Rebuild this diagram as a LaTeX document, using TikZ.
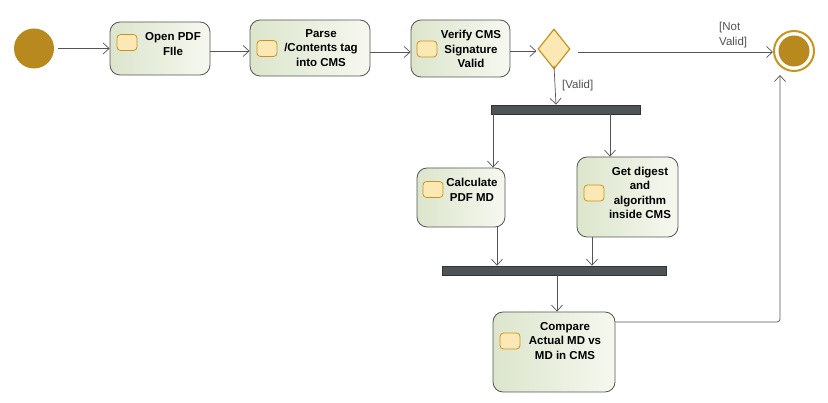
\documentclass[tikz,border=0pt]{standalone}
\usepackage{fontspec}
\setmainfont{Liberation Sans}
\usetikzlibrary{arrows.meta,shapes.geometric}
\definecolor{gold}{HTML}{B8891F}
\definecolor{goldline}{HTML}{C8961E}
\definecolor{pinfill}{HTML}{FBE8B4}
\definecolor{actfillA}{HTML}{DCE5CC}
\definecolor{actfillB}{HTML}{F6F8F0}
\definecolor{edge}{HTML}{555555}
\definecolor{barfill}{HTML}{4D5457}
\definecolor{lblgray}{HTML}{505050}
\tikzset{
  act/.style={draw=edge, line width=0.8pt, rounded corners=10pt, left color=actfillA, right color=actfillB, inner sep=0pt},
  pinbox/.style={draw=goldline, line width=0.8pt, fill=pinfill, rounded corners=3.5pt, minimum width=20pt, minimum height=16pt, inner sep=0pt},
  lbl/.style={font=\bfseries\fontsize{11.5}{14.5}\selectfont, align=center, inner sep=0pt, text=black},
  glbl/.style={font=\fontsize{11.5}{14.5}\selectfont, align=left, inner sep=0pt, text=lblgray},
  bar/.style={draw=black!80, fill=barfill, line width=0.6pt, inner sep=0pt},
  flow/.style={draw=edge, line width=0.7pt, -{Straight Barb[length=6pt,width=11pt,line width=0.7pt]}},
  plain/.style={draw=edge, line width=0.7pt},
}
\begin{document}
\begin{tikzpicture}[x=1pt,y=-1pt]
\useasboundingbox[fill=white] (0,0) rectangle (828,403);
% start
\node[circle, fill=gold, minimum size=40pt, inner sep=0pt] (start) at (34,48.5) {};
% actions
\node[act, minimum width=100pt, minimum height=53pt] (open) at (160,48.5) {};
\node[pinbox] (openp) at (127,42.5) {};
\node[lbl] (opent) at (173,44) {Open PDF\\FIle};

\node[act, minimum width=120pt, minimum height=56pt] (parse) at (310,48) {};
\node[pinbox] (parsep) at (267,48.5) {};
\node[lbl] (parset) at (321,48) {Parse\\/Contents tag\\into CMS};

\node[act, minimum width=99pt, minimum height=57pt] (verify) at (460.5,48.5) {};
\node[pinbox] (verifyp) at (427,49) {};
\node[lbl] (verifyt) at (471,49) {Verify CMS\\Signature\\Valid};

% decision
\node[diamond, draw=goldline, line width=1.2pt, fill=pinfill, minimum width=32pt, minimum height=40pt, inner sep=0pt] (dec) at (554,49) {};

% final
\node[circle, draw=goldline, line width=2pt, fill=white, minimum size=40pt, inner sep=0pt] (final) at (794,51) {};
\node[circle, fill=gold, minimum size=31pt, inner sep=0pt] (finalin) at (794,51) {};

% fork bar
\node[bar, minimum width=149pt, minimum height=9pt] (fork) at (565.5,109.5) {};

\node[act, minimum width=88pt, minimum height=59pt] (calc) at (461,197.5) {};
\node[pinbox] (calcp) at (433,189.5) {};
\node[lbl] (calct) at (472,190) {Calculate\\PDF MD};

\node[act, minimum width=101pt, minimum height=80pt] (digest) at (627.5,197) {};
\node[pinbox] (digestp) at (594,193) {};
\node[lbl] (digestt) at (640,193) {Get digest\\and\\algorithm\\inside CMS};

% join bar
\node[bar, minimum width=224pt, minimum height=9pt] (join) at (554,270.5) {};

\node[act, minimum width=122pt, minimum height=80pt] (comp) at (554,352) {};
\node[pinbox] (compp) at (510,341) {};
\node[lbl] (compt) at (565,341) {Compare\\Actual MD vs\\MD in CMS};

% labels
\node[glbl, anchor=north west] (notvalid) at (719,22) {[Not\\Valid]};
\node[glbl, anchor=west] (valid) at (562,86) {[Valid]};

% connectors
\coordinate (s0) at (58,48.5);
\draw[flow] (s0) -- (open.west |- s0);
\draw[flow] (open.east |- 0,51) -- (parse.west |- 0,51);
\draw[flow] (parse.east |- 0,52) -- (verify.west |- 0,52);
\draw[flow] (verify.east |- 0,51) -- ([xshift=-1pt]dec.west |- 0,51);
\coordinate (decr) at (578,52);
\draw[flow] (decr) -- (final.west |- decr);
\draw[flow] ([yshift=4pt]dec.south) -- (fork.north -| 556,0);
\draw[flow] (fork.south -| 493,0) -- (calc.north -| 493,0);
\draw[flow] (fork.south -| 610,0) -- (digest.north -| 610,0);
\draw[flow] (calc.south -| 497,0) -- (join.north -| 497,0);
\draw[flow] (digest.south -| 592,0) -- (join.north -| 592,0);
\draw[flow] (join.south -| 557,0) -- (comp.north -| 557,0);
\coordinate (fin) at (780,75);
\draw[flow, rounded corners=3pt] (comp.east |- 0,322) -- (780,322) -- (fin);
\end{tikzpicture}
\end{document}
